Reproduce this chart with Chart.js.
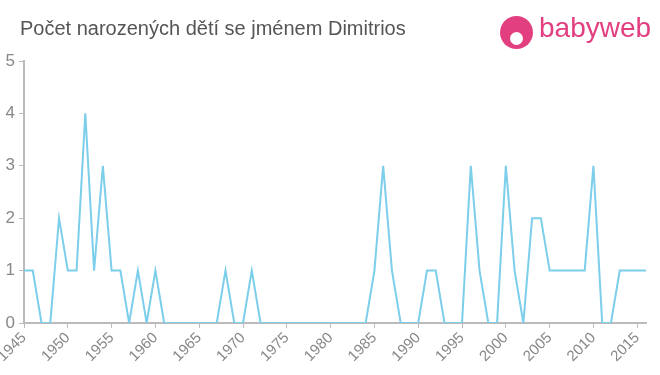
<!DOCTYPE html>
<html>
<head>
<meta charset="utf-8">
<script src="https://cdn.jsdelivr.net/npm/chart.js@4/dist/chart.umd.min.js"></script>
<style>
    body { margin: 0; background: #fff; font-family: "Liberation Sans", Arial, sans-serif; }
    #wrap { position: relative; width: 660px; height: 375px; overflow: hidden; }
    #title { position: absolute; left: 20px; top: 17px; font-size: 20px; color: #555; }
    #logo { position: absolute; left: 500px; top: 16px; height: 34px; }
    #logo .face { position: absolute; left: 0; top: 0; width: 33px; height: 33px; border-radius: 50%; background: #e23f80; }
    #logo .face:after { content: ""; position: absolute; left: 10px; top: 16px; width: 13px; height: 13px; border-radius: 50%; background: #fff; }
    #logo .txt { position: absolute; left: 39px; top: -4px; font-size: 28px; color: #e23f80; }
    canvas { position: absolute; left: 0; top: 0; }
</style>
</head>
<body>
<div id="wrap">
    <canvas id="chart" width="660" height="375"></canvas>
    <div id="title">Počet narozených dětí se jménem Dimitrios</div>
    <div id="logo"><div class="face"></div><div class="txt">babyweb</div></div>
</div>
<script>
// /------------ Data ------------/
const years = [1945, 1946, 1947, 1948, 1949, 1950, 1951, 1952, 1953, 1954, 1955, 1956, 1957, 1958, 1959, 1960,
    1961, 1962, 1963, 1964, 1965, 1966, 1967, 1968, 1969, 1970, 1971, 1972, 1973, 1974, 1975, 1976, 1977, 1978,
    1979, 1980, 1981, 1982, 1983, 1984, 1985, 1986, 1987, 1988, 1989, 1990, 1991, 1992, 1993, 1994, 1995, 1996,
    1997, 1998, 1999, 2000, 2001, 2002, 2003, 2004, 2005, 2006, 2007, 2008, 2009, 2010, 2011, 2012, 2013, 2014,
    2015, 2016];
const births = [1, 1, 0, 0, 2, 1, 1, 4, 1, 3, 1, 1, 0, 1, 0, 1,
    0, 0, 0, 0, 0, 0, 0, 1, 0, 0, 1, 0, 0, 0, 0, 0, 0, 0,
    0, 0, 0, 0, 0, 0, 1, 3, 1, 0, 0, 0, 1, 1, 0, 0, 0, 3,
    1, 0, 0, 3, 1, 0, 2, 2, 1, 1, 1, 1, 1, 3, 0, 0, 1, 1,
    1, 1];
const yTicks = [0, 1, 2, 3, 4, 5];
const xTicks = [1945, 1950, 1955, 1960, 1965, 1970, 1975, 1980, 1985, 1990, 1995, 2000, 2005, 2010, 2015];

const points = years.map((y, i) => ({ x: y, y: births[i] }));

const ctx = document.querySelector("#chart").getContext('2d');

// /------------ Line chart ------------/
lineChart = new Chart(ctx, {
    type: 'line',
    data: {
        datasets: [{
            data: points,
            borderColor: "rgb(124, 206, 234)",
            borderWidth: 2,
            pointRadius: 0,
            tension: 0,
            fill: false,
        }]
    },
    options: {
        responsive: false,
        animation: false,
        layout: {
            padding: { left: 0, right: 14, top: 61, bottom: 0 }
        },
        scales: {
            x: {
                type: 'linear',
                min: years[0],
                max: years[years.length - 1],
                afterBuildTicks: (scale) => {
                    scale.ticks = xTicks.map(v => ({ value: v }));
                },
                afterFit: (scale) => {
                    scale.paddingLeft = 0;
                    scale.paddingRight = 0;
                    scale.height = 52;
                },
                border: { color: "#bbb", width: 2 },
                grid: { drawOnChartArea: false, drawTicks: true, tickLength: 5, color: "#bbb" },
                ticks: {
                    color: "#888",
                    font: { size: 15, family: "'Liberation Sans', Arial, sans-serif" },
                    minRotation: 45,
                    maxRotation: 45,
                    padding: 1,
                    callback: (v) => String(v)
                }
            },
            y: {
                min: 0,
                max: 5,
                afterBuildTicks: (scale) => {
                    scale.ticks = yTicks.map(v => ({ value: v }));
                },
                afterFit: (scale) => {
                    scale.width = 24;
                },
                border: { color: "#bbb", width: 2 },
                grid: { drawOnChartArea: false, drawTicks: true, tickLength: 5, color: "#bbb" },
                ticks: {
                    color: "#888",
                    font: { size: 17, family: "'Liberation Sans', Arial, sans-serif" },
                    padding: 4
                }
            }
        },
        plugins: {
            legend: { display: false },
            tooltip: { enabled: false }
        }
    }
});
</script>
</body>
</html>
